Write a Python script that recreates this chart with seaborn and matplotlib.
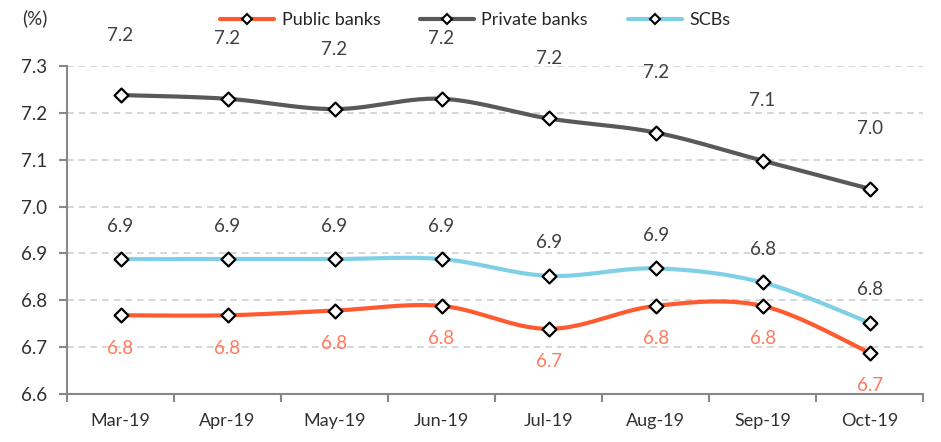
import numpy as np
import pandas as pd
import matplotlib
matplotlib.use("Agg")
import matplotlib.pyplot as plt
import seaborn as sns
from matplotlib.lines import Line2D

months = ["Mar-19", "Apr-19", "May-19", "Jun-19", "Jul-19", "Aug-19", "Sep-19", "Oct-19"]
public = [6.768, 6.768, 6.778, 6.788, 6.739, 6.788, 6.788, 6.688]
private = [7.238, 7.230, 7.208, 7.230, 7.188, 7.158, 7.098, 7.038]
scbs = [6.888, 6.888, 6.888, 6.888, 6.852, 6.868, 6.838, 6.752]
yticks = [6.6, 6.7, 6.8, 6.9, 7.0, 7.1, 7.2, 7.3]

series = [
    ("Public banks", public, "#FF5A30", "#FF7A5C", -33),
    ("Private banks", private, "#595959", "#404040", 60),
    ("SCBs", scbs, "#7FD0E6", "#404040", 33),
]

sns.set_theme(style="white")
plt.rcParams["font.family"] = ["Lato", "DejaVu Sans"]

fig = plt.figure(figsize=(9.41, 4.42), dpi=100)
ax = fig.add_axes([0.0712, 0.1086, 0.9098, 0.7421])


def catmull(xs, ys, n=30):
    xs = np.asarray(xs, float)
    ys = np.asarray(ys, float)
    px = np.concatenate([[xs[0]], xs, [xs[-1]]])
    py = np.concatenate([[ys[0]], ys, [ys[-1]]])
    ox, oy = [], []
    for i in range(1, len(px) - 2):
        p0, p1, p2, p3 = [np.array([px[j], py[j]]) for j in (i - 1, i, i + 1, i + 2)]
        c1 = p1 + (p2 - p0) / 6.0
        c2 = p2 - (p3 - p1) / 6.0
        t = np.linspace(0, 1, n)[:, None]
        b = ((1 - t) ** 3) * p1 + 3 * ((1 - t) ** 2) * t * c1 + 3 * (1 - t) * t ** 2 * c2 + t ** 3 * p2
        ox.extend(b[:, 0])
        oy.extend(b[:, 1])
    return np.array(ox), np.array(oy)


x = np.arange(len(months))
for name, vals, lc, tc, off in series:
    sx, sy = catmull(x, vals)
    sns.lineplot(x=sx, y=sy, ax=ax, color=lc, linewidth=3, sort=False, zorder=2)
    sns.scatterplot(x=x, y=vals, ax=ax, marker="D", s=50, facecolor="white",
                    edgecolor="black", linewidth=1.6, zorder=3)
    for xi, v in zip(x, vals):
        ax.annotate(f"{v:.1f}", (xi, v), xytext=(0, off), textcoords="offset pixels",
                    ha="center", va="center", fontsize=13.5, color=tc, annotation_clip=False)

ax.set_xlim(-0.5, len(months) - 0.5)
ax.set_ylim(6.6, 7.3)
ax.set_yticks(yticks)
ax.set_yticklabels([f"{t:.1f}" for t in yticks], fontsize=13.5, color="#303030")
ax.set_xticks(x)
ax.set_xticklabels(months, fontsize=13, color="#303030")
ax.set_xticks(np.arange(len(months) + 1) - 0.5, minor=True)
ax.tick_params(axis="x", which="major", length=0, pad=14)
ax.tick_params(axis="x", which="minor", length=6, width=1.5, color="#888888", direction="out", bottom=True)
ax.tick_params(axis="y", length=6, width=1.5, color="#888888", direction="out", left=True, pad=8)

for t in yticks[1:]:
    ax.axhline(t, color="#D0D0D0", linestyle=(0, (4, 3)), linewidth=1.2, zorder=0)

for s in ["top", "right"]:
    ax.spines[s].set_visible(False)
for s in ["left", "bottom"]:
    ax.spines[s].set_color("#888888")
    ax.spines[s].set_linewidth(1.5)

fig.text(22 / 941, 1 - 18 / 442, "(%)", fontsize=13.5, color="#303030", va="center", ha="left")

handles = [Line2D([0], [0], color=lc, linewidth=3, marker="D", markersize=5,
                  markerfacecolor="white", markeredgecolor="black", markeredgewidth=1.5)
           for _, _, lc, _, _ in series]
fig.legend(handles, [s[0] for s in series], loc="center", bbox_to_anchor=(0.505, 1 - 20 / 442),
           ncol=3, frameon=False, fontsize=13, handlelength=3, columnspacing=2.2, handletextpad=0.4)

fig.savefig("out.png", dpi=100)
